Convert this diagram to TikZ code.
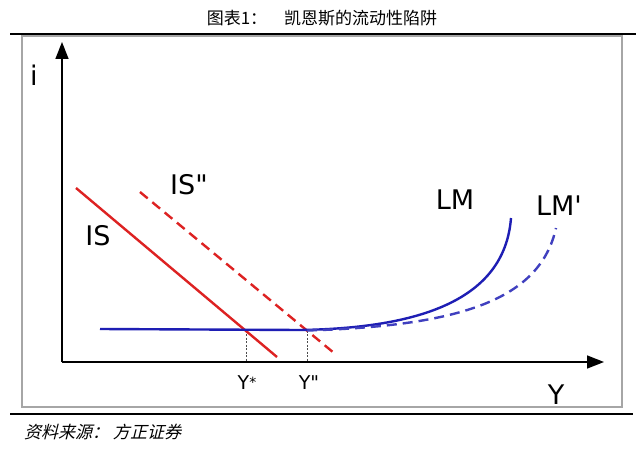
\documentclass[tikz,border=0pt]{standalone}
\usepackage{fontspec}
\setmainfont{DejaVu Sans}
\newfontfamily\lblfont{DejaVu Sans}
\newfontfamily\cjk{Noto Sans CJK SC}
\usetikzlibrary{arrows.meta}
\definecolor{isred}{HTML}{DD2222}
\definecolor{lmblue}{HTML}{1E1EB4}
\tikzset{
  axis/.style={line width=1.6pt, -{Triangle[length=17pt,width=13pt]}},
  isline/.style={isred, line width=2.4pt},
  lmline/.style={lmblue, line width=2.4pt},
  dashline/.style={dash pattern=on 10pt off 6pt},
  guide/.style={black!70, line width=0.8pt, dash pattern=on 2pt off 1.5pt},
  lbl/.style={font=\lblfont\fontsize{27}{27}\selectfont, inner sep=0pt},
  tick/.style={font=\lblfont\fontsize{19}{19}\selectfont, inner sep=0pt},
  rule/.style={line width=2.6pt, black},
}
\begin{document}
\begin{tikzpicture}[x=1pt,y=-1pt]
\useasboundingbox (0,0) rectangle (640,460);
\fill[white] (0,0) rectangle (640,460);
% title
\node (title) at (322,18) {\cjk\fontsize{17}{17}\selectfont 图表1：\quad 凯恩斯的流动性陷阱};
\draw[rule] (10,34) -- (636,34);
\draw[black!35, line width=1.2pt] (22,36) rectangle (622,407);
\draw[rule] (10,414) -- (633,414);
\node[anchor=west, inner sep=0pt] (src) at (24,432) {\cjk\fontsize{17}{17}\selectfont\addfontfeature{FakeSlant=0.25}资料来源：\ 方正证券};
% axes
\coordinate (O) at (62,362);
\coordinate (ytip) at (62,42);
\coordinate (xtip) at (604,362);
\draw[axis] (O) -- (ytip);
\draw[axis] (O) -- (xtip);
\node[lbl] (il) at (34,75) {i};
\node[lbl] (yl) at (556,395) {Y};
% guide lines
\coordinate (e1) at (246,330.5);
\coordinate (e2) at (307,330.5);
\coordinate (b1) at (246,362);
\coordinate (b2) at (307,362);
\draw[guide] (e1) -- (b1);
\draw[guide] (e2) -- (b2);
\node[tick] (ys) at (247,383) {Y\raisebox{0.25ex}{\fontsize{14}{14}\selectfont *}};
\node[tick] (ydd) at (309,383) {Y"};
% IS curves
\coordinate (is1) at (76,188);
\coordinate (is2) at (277,357);
\draw[isline] (is1) -- (is2);
\coordinate (isp1) at (140,192);
\coordinate (isp2) at (334,353);
\draw[isline, dashline] (isp1) -- (isp2);
\node[lbl] (isl) at (98,236) {IS};
\node[lbl] (ispl) at (189,185) {IS"};
% LM curves
\coordinate (lm0) at (100,329);
\coordinate (lm1) at (300,330);
\coordinate (lm2) at (511,218);
\draw[lmline] (lm0) -- (lm1) .. controls (430,328) and (505,295) .. (lm2);
\coordinate (lmp1) at (307,330.5);
\coordinate (lmp2) at (556,228);
\draw[lmline, dashline, lmblue!85] (lmp1) .. controls (460,326) and (540,300) .. (lmp2);
\node[lbl] (lml) at (455,200) {LM};
\node[lbl] (lmpl) at (559,206) {LM'};
\end{tikzpicture}
\end{document}
